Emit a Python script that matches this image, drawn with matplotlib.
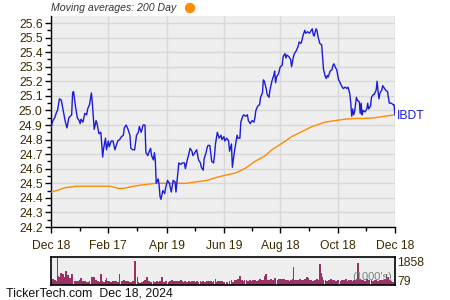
import numpy as np
import matplotlib
matplotlib.use("Agg")
import matplotlib.pyplot as plt

# Day offsets from Dec 18 2023 and IBDT closing prices
price_days = [0, 2, 4, 6, 7, 9, 11, 13, 15, 17, 19, 22, 23, 24, 26, 28, 30, 31, 32, 34,
              36, 38, 39, 41, 43, 44, 46, 48, 49, 51, 53, 54, 55, 56, 58, 59, 61, 62, 64, 66,
              68, 69, 71, 73, 75, 77, 78, 80, 82, 84, 85, 87, 89, 91, 93, 94, 96, 98, 100, 101,
              103, 104, 106, 107, 109, 110, 111, 112, 114, 115, 116, 117, 119, 121, 122, 124, 126, 127, 128, 130,
              132, 133, 135, 136, 138, 140, 142, 143, 145, 147, 148, 150, 151, 153, 155, 157, 159, 160, 162, 163,
              165, 166, 167, 169, 171, 173, 174, 175, 177, 179, 181, 182, 184, 185, 187, 189, 190, 192, 193, 195,
              196, 198, 199, 201, 202, 204, 205, 207, 209, 210, 212, 214, 216, 217, 218, 220, 222, 223, 225, 226,
              227, 229, 230, 232, 233, 235, 237, 238, 239, 240, 242, 244, 246, 247, 249, 250, 251, 253, 255, 256,
              258, 259, 261, 263, 264, 266, 267, 268, 270, 271, 273, 275, 277, 278, 279, 280, 282, 283, 284, 286,
              288, 289, 290, 292, 293, 294, 295, 297, 299, 300, 301, 303, 304, 306, 307, 309, 311, 313, 315, 316,
              317, 318, 319, 320, 321, 322, 323, 325, 326, 328, 329, 330, 331, 332, 334, 336, 337, 338, 340, 341,
              343, 344, 346, 347, 348, 349, 350, 352, 353, 355, 356, 358, 359, 360, 362, 364, 365, 366]
price_vals = [24.88, 24.93, 24.95, 24.99, 25.00, 25.08, 25.07, 25.00, 24.93, 24.88, 24.95, 24.97, 25.12, 25.13, 25.03, 24.95, 24.93, 24.91, 24.94, 24.92,
              24.98, 24.97, 25.01, 25.04, 25.12, 25.05, 24.87, 24.93, 24.91, 24.84, 24.85, 24.77, 24.68, 24.74, 24.81, 24.73, 24.79, 24.75, 24.79, 24.79,
              24.73, 24.75, 24.79, 24.80, 24.82, 24.83, 24.88, 24.90, 24.87, 24.83, 24.74, 24.73, 24.73, 24.83, 24.85, 24.89, 24.85, 24.90, 24.90, 24.71,
              24.69, 24.71, 24.74, 24.69, 24.66, 24.71, 24.66, 24.50, 24.53, 24.49, 24.41, 24.39, 24.45, 24.43, 24.47, 24.52, 24.50, 24.47, 24.44, 24.52,
              24.51, 24.44, 24.57, 24.64, 24.63, 24.64, 24.64, 24.60, 24.66, 24.71, 24.74, 24.72, 24.69, 24.71, 24.73, 24.66, 24.64, 24.61, 24.59, 24.67,
              24.71, 24.74, 24.76, 24.76, 24.65, 24.64, 24.69, 24.77, 24.85, 24.81, 24.83, 24.80, 24.82, 24.79, 24.81, 24.79, 24.72, 24.77, 24.61, 24.71,
              24.75, 24.83, 24.81, 24.81, 24.92, 24.96, 24.97, 24.96, 24.97, 24.93, 24.91, 24.93, 24.92, 24.95, 25.00, 25.03, 25.04, 25.09, 25.12, 25.21,
              25.20, 25.15, 25.11, 25.09, 25.14, 25.20, 25.24, 25.27, 25.19, 25.23, 25.25, 25.30, 25.31, 25.37, 25.39, 25.36, 25.38, 25.37, 25.35, 25.30,
              25.37, 25.39, 25.41, 25.44, 25.47, 25.46, 25.48, 25.51, 25.55, 25.53, 25.54, 25.53, 25.55, 25.56, 25.52, 25.51, 25.56, 25.55, 25.51, 25.46,
              25.45, 25.36, 25.28, 25.23, 25.22, 25.24, 25.23, 25.27, 25.28, 25.31, 25.32, 25.29, 25.28, 25.21, 25.20, 25.17, 25.15, 25.16, 25.15, 25.16,
              25.14, 25.11, 25.05, 24.96, 25.01, 24.97, 24.99, 25.09, 25.07, 25.06, 24.98, 25.05, 24.97, 25.00, 24.99, 25.01, 25.05, 25.01, 25.03, 25.09,
              25.11, 25.11, 25.14, 25.20, 25.13, 25.08, 25.12, 25.14, 25.17, 25.15, 25.14, 25.13, 25.09, 25.05, 25.05, 25.04, 25.04, 24.97]

# 200 day moving average
ma_days = [0, 6, 15, 27, 41, 52, 63, 72, 77, 88, 98, 112, 134, 144, 155, 166, 176, 185, 196, 206,
           217, 228, 235, 246, 256, 267, 278, 292, 302, 313, 323, 334, 345, 355, 366]
ma_vals = [24.44, 24.45, 24.47, 24.48, 24.48, 24.48, 24.48, 24.465, 24.465, 24.48, 24.49, 24.50, 24.50, 24.50, 24.51, 24.52, 24.54, 24.555, 24.57, 24.60,
           24.65, 24.69, 24.73, 24.775, 24.82, 24.855, 24.89, 24.92, 24.93, 24.94, 24.945, 24.945, 24.95, 24.96, 24.97]

# volume (1000's)
vol_days = [0, 2, 4, 6, 7, 8, 9, 11, 13, 15, 16, 18, 20, 22, 23, 25, 27, 29, 31, 32,
            34, 36, 38, 39, 41, 43, 45, 46, 48, 50, 52, 53, 54, 56, 58, 59, 61, 62, 64, 66,
            68, 69, 71, 73, 75, 77, 78, 80, 82, 84, 85, 87, 89, 90, 92, 93, 95, 97, 99, 100,
            102, 104, 106, 107, 109, 111, 113, 115, 116, 118, 120, 122, 123, 125, 127, 129, 131, 132, 134, 136,
            138, 139, 141, 143, 145, 147, 148, 150, 152, 154, 155, 157, 159, 161, 162, 164, 166, 168, 170, 171,
            173, 175, 177, 178, 180, 182, 184, 187, 190, 192, 194, 196, 198, 199, 201, 203, 205, 206, 208, 210,
            212, 214, 215, 217, 219, 221, 222, 224, 226, 228, 229, 231, 232, 234, 236, 238, 239, 241, 243, 245,
            246, 248, 250, 252, 254, 255, 257, 258, 260, 261, 263, 265, 267, 268, 270, 272, 274, 276, 277, 279,
            281, 283, 284, 286, 287, 289, 290, 292, 294, 296, 298, 299, 301, 303, 305, 306, 308, 310, 312, 314,
            315, 317, 319, 321, 322, 324, 326, 327, 329, 331, 332, 334, 336, 338, 339, 341, 343, 345, 346, 348,
            350, 352, 354, 355, 357, 359, 361, 362, 364]
vol_vals = [300, 410, 345, 300, 1858, 644, 529, 828, 759, 529, 920, 690, 483, 713, 345, 300, 300, 300, 345, 483,
            253, 300, 230, 184, 253, 575, 529, 529, 345, 253, 184, 713, 300, 184, 345, 483, 253, 253, 184, 253,
            300, 253, 184, 759, 253, 300, 345, 300, 253, 230, 184, 300, 1610, 874, 575, 184, 115, 184, 253, 345,
            529, 300, 184, 230, 300, 184, 253, 184, 253, 575, 184, 253, 115, 184, 253, 345, 253, 253, 253, 300,
            345, 253, 184, 253, 184, 253, 184, 253, 300, 184, 253, 184, 253, 230, 253, 184, 253, 300, 253, 184,
            253, 414, 184, 253, 300, 253, 230, 207, 276, 322, 207, 322, 368, 437, 598, 322, 276, 368, 322, 276,
            368, 276, 322, 368, 276, 368, 437, 322, 368, 598, 736, 322, 368, 437, 368, 506, 437, 368, 437, 437,
            437, 437, 368, 322, 276, 322, 437, 1242, 368, 322, 368, 437, 368, 322, 437, 552, 506, 322, 368, 276,
            368, 437, 322, 1426, 782, 552, 322, 368, 276, 322, 437, 368, 322, 276, 368, 368, 276, 368, 322, 437,
            276, 322, 368, 276, 322, 368, 437, 1518, 437, 368, 322, 276, 437, 368, 322, 368, 276, 322, 368, 276,
            368, 322, 368, 437, 736, 552, 322, 276, 207]

tick_days = [0, 61, 123, 184, 244, 305, 366]
tick_labels = ["Dec 18", "Feb 17", "Apr 19", "Jun 19", "Aug 18", "Oct 18", "Dec 18"]

plt.rcParams['font.family'] = ['Liberation Sans', 'DejaVu Sans']
txt = '#3a2a00'

fig = plt.figure(figsize=(4.5, 3.0), dpi=100)
ax = fig.add_axes([0.1133, 0.2433, 0.7644, 0.7033])
ax.set_facecolor('#eeeeee')
ax.plot(ma_days, ma_vals, color='#ff8c00', lw=1.0, zorder=3)
ax.plot(price_days, price_vals, color='#1c1cd8', lw=1.0, zorder=4)
ax.set_xlim(0, 366)
ax.set_ylim(24.2, 25.648)
ax.set_yticks(np.arange(24.2, 25.65, 0.1))
ax.set_yticklabels([f"{v:.1f}" for v in np.arange(24.2, 25.65, 0.1)])
ax.set_yticks(np.arange(24.25, 25.65, 0.1), minor=True)
ax.set_xticks(tick_days)
ax.set_xticklabels(tick_labels)
ax.set_xticks([(a + b) / 2 for a, b in zip(tick_days[:-1], tick_days[1:])], minor=True)
ax.grid(True, which='major', color='#d8d8d8', lw=1)
ax.set_axisbelow(True)
for s in ['top', 'right']:
    ax.spines[s].set_visible(False)
for s in ['left', 'bottom']:
    ax.spines[s].set_color('black')
    ax.spines[s].set_linewidth(1.0)
ax.tick_params(which='major', direction='out', length=4, width=1, labelsize=8.7, labelcolor=txt, pad=2)
ax.tick_params(which='minor', direction='out', length=3, width=1)
ax.tick_params(axis='x', pad=5)
ax.text(1.005, (24.965 - 24.2) / (25.648 - 24.2), "IBDT", transform=ax.transAxes, color='#1c1cd8',
        fontsize=8.7, va='center', ha='left')

# title with orange marker
fig.text(51 / 450, 1 - 8 / 300, "Moving averages: 200 Day", style='italic', fontsize=7.6,
         color='#333333', va='center', ha='left')
fig.patches.append(matplotlib.patches.Ellipse((190 / 450, 1 - 8 / 300), 9 / 450, 9 / 300,
                                              transform=fig.transFigure, color='#ff8c00', figure=fig))

# volume panel
vax = fig.add_axes([0.1133, 0.05, 0.7644, 0.0933])
vax.set_facecolor('#eeeeee')
vax.bar(vol_days, vol_vals, width=1.9, color='#993366', align='center', lw=0)
vax.set_xlim(0, 366)
vax.set_ylim(0, 1900)
vax.set_xticks([])
vax.set_yticks([])
for s in vax.spines.values():
    s.set_color('black')
    s.set_linewidth(1.2)
vax.text(0.99, 0.1, "(1000's)", transform=vax.transAxes, ha='right', va='bottom',
         fontsize=8, color='#557766', alpha=0.85, zorder=5)
fig.text(397 / 450, 1 - 263 / 300, "1858", fontsize=8.7, color=txt, va='center', ha='left')
fig.text(397 / 450, 1 - 282 / 300, "79", fontsize=8.7, color=txt, va='center', ha='left')

fig.text(6 / 450, 1 - 294 / 300, "TickerTech.com  Dec 18, 2024", fontsize=8.9, color='#111111',
         va='center', ha='left')

fig.savefig('out.png', dpi=100)
